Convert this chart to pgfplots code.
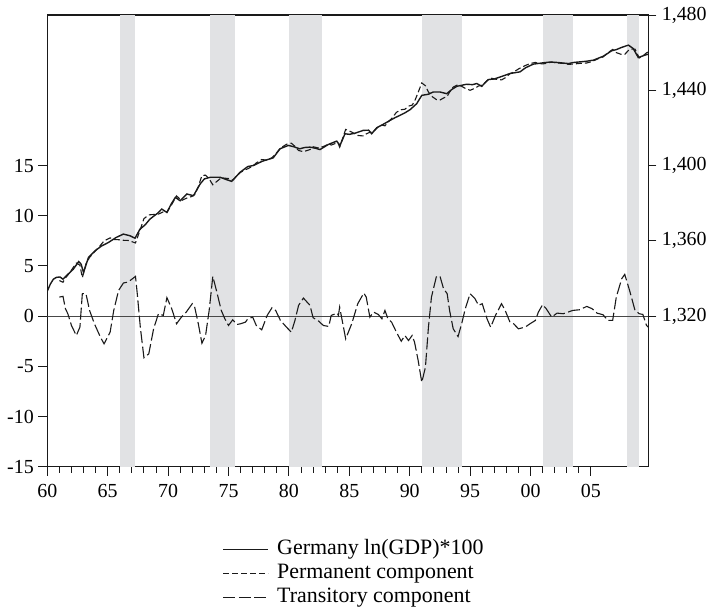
\documentclass[border=0pt]{standalone}
\usepackage{fontspec}
\setmainfont{Liberation Serif}
\usepackage{pgfplots}
\pgfplotsset{compat=1.18}
\definecolor{bandgray}{HTML}{E1E2E4}
\definecolor{ink}{HTML}{1A1A1A}

\begin{document}
\begin{tikzpicture}
\pgfplotsset{
  every axis/.append style={
    width=601bp, height=451.7bp, scale only axis,
    xmin=1960, xmax=2009.75,
    tick align=outside,
    axis line style={ink, line width=1.2bp},
    tick style={ink, line width=0.9bp},
    major tick length=8bp, minor tick length=5.5bp,
    ticklabel style={font=\fontsize{20}{24}\selectfont},
  },
}
% ---------- left axis: transitory component ----------
\begin{axis}[
  ymin=-15, ymax=30,
  xtick={1960,1965,1970,1975,1980,1985,1990,1995,2000,2005},
  xticklabels={60,65,70,75,80,85,90,95,00,05},
  minor x tick num=4,
  xtick pos=bottom,
  ytick={-15,-10,-5,0,5,10,15},
  yticklabels={-15,-10,-5,0,5,10,15},
  ytick pos=left,
  major tick length=9bp, minor tick length=6bp,
  yticklabel style={xshift=-1bp},
  xticklabel style={yshift=-5bp},
]
\addplot[draw=none, fill=bandgray] coordinates {(1966.0,-15) (1966.0,30) (1967.25,30) (1967.25,-15)};
\addplot[draw=none, fill=bandgray] coordinates {(1973.5,-15) (1973.5,30) (1975.5,30) (1975.5,-15)};
\addplot[draw=none, fill=bandgray] coordinates {(1980.0,-15) (1980.0,30) (1982.75,30) (1982.75,-15)};
\addplot[draw=none, fill=bandgray] coordinates {(1991.0,-15) (1991.0,30) (1994.3,30) (1994.3,-15)};
\addplot[draw=none, fill=bandgray] coordinates {(2001.0,-15) (2001.0,30) (2003.55,30) (2003.55,-15)};
\addplot[draw=none, fill=bandgray] coordinates {(2008.0,-15) (2008.0,30) (2009.0,30) (2009.0,-15)};
\addplot[ink!80, line width=0.9bp] coordinates {(1960,0) (2009.75,0)};
\addplot[ink, line width=1.1bp, dash pattern=on 12bp off 3.5bp] coordinates {
(1961.0,1.9) (1961.3,1.97) (1961.5,0.74) (1961.7,0.24) (1962.0,-0.93) (1962.4,-1.93)
(1962.7,-1.1) (1962.9,2.24) (1963.2,2.24) (1963.5,0.57) (1963.9,-0.76) (1964.4,-2.1)
(1964.7,-2.76) (1965.2,-1.6) (1965.5,0.57) (1965.9,2.56) (1966.3,3.3) (1966.7,3.4)
(1967.3,3.96) (1967.45,2.2) (1967.7,-1.1) (1968.0,-4.15) (1968.4,-3.76) (1968.8,-1.26)
(1969.2,0.24) (1969.6,0.07) (1969.9,1.84) (1970.3,0.74) (1970.7,-0.76) (1971.1,-0.1)
(1971.5,0.4) (1972.0,1.24) (1972.2,0.9) (1972.5,-0.76) (1972.8,-2.7) (1973.1,-1.93)
(1973.4,0.57) (1973.7,3.96) (1974.0,2.56) (1974.4,0.57) (1974.7,-0.27) (1975.0,-0.93)
(1975.35,-0.37) (1975.7,-0.83) (1976.0,-0.76) (1976.4,-0.6) (1976.6,-0.27) (1977.0,-0.1)
(1977.3,-0.93) (1977.75,-1.36) (1978.2,0.07) (1978.6,0.84) (1978.9,0.57) (1979.3,-0.43)
(1979.8,-1.1) (1980.2,-1.6) (1980.5,-0.43) (1980.8,1.07) (1981.2,1.8) (1981.75,1.07)
(1982.0,-0.16) (1982.4,-0.43) (1982.85,-0.93) (1983.3,-1.03) (1983.5,0.07) (1984.0,0.3)
(1984.1,0.07) (1984.2,0.9) (1984.7,-2.26) (1985.2,-0.76) (1985.7,1.24) (1986.2,2.3)
(1986.4,1.9) (1986.7,-0.1) (1987.0,0.4) (1987.4,0.17) (1987.7,-0.27) (1987.95,0.57)
(1988.2,-0.27) (1988.5,-0.6) (1988.9,-1.6) (1989.3,-2.5) (1989.6,-1.93) (1989.9,-2.43)
(1990.2,-1.93) (1990.4,-2.6) (1990.7,-4.42) (1991.0,-6.59) (1991.3,-5.1) (1991.55,-1.1)
(1991.8,1.9) (1992.2,3.9) (1992.5,4.0) (1992.8,2.73) (1993.1,2.24) (1993.3,0.57)
(1993.6,-1.26) (1994.0,-2.03) (1994.3,-0.76) (1994.6,0.74) (1995.0,2.24) (1995.4,1.74)
(1995.7,1.07) (1996.0,1.24) (1996.4,-0.27) (1996.7,-1.1) (1997.1,0.07) (1997.6,1.24)
(1997.9,0.57) (1998.3,-0.6) (1998.6,-0.76) (1999.0,-1.26) (1999.55,-1.1) (1999.96,-0.76)
(2000.4,-0.43) (2000.65,0.4) (2001.0,1.14) (2001.3,0.74) (2001.75,-0.1) (2002.2,0.3)
(2002.7,0.24) (2003.1,0.4) (2003.5,0.57) (2004.1,0.64) (2004.65,0.97) (2005.1,0.74)
(2005.5,0.3) (2006.0,0.14) (2006.4,-0.43) (2006.8,-0.43) (2007.1,1.9) (2007.55,3.73)
(2007.8,4.16) (2008.2,2.56) (2008.65,0.57) (2009.0,0.24) (2009.3,0.17) (2009.6,-0.93)
(2009.75,-1.1)
};
\end{axis}
% ---------- right axis: GDP and permanent component ----------
\begin{axis}[
  ymin=1240, ymax=1480,
  axis x line=none,
  axis y line*=right,
  ytick={1320,1360,1400,1440,1480},
  yticklabels={{1,320},{1,360},{1,400},{1,440},{1,480}},
  yticklabel style={xshift=2bp},
  legend style={
    at={(rel axis cs:0.292,-0.236)}, anchor=west,
    draw=none, fill=none, inner sep=0pt, outer sep=0pt,
    font=\fontsize{22}{24}\selectfont,
    row sep=2bp, column sep=7bp,
    nodes={inner sep=1bp, text height=15bp, text depth=5bp},
  },
  legend cell align=left,
  legend image code/.code={\draw[#1] (0bp,0bp) -- (45bp,0bp);},
]
\addplot[ink, line width=1.4bp] coordinates {
(1960.00,1333.3) (1960.25,1337.0) (1960.50,1339.6) (1960.75,1340.6) (1961.05,1340.8)
(1961.30,1339.6) (1961.70,1342.2) (1962.15,1344.9) (1962.60,1349.0) (1962.80,1347.6)
(1963.00,1343.1) (1963.40,1351.1) (1963.95,1354.7) (1964.50,1357.3) (1965.05,1359.1)
(1965.70,1361.8) (1966.30,1363.6) (1966.85,1362.7) (1967.26,1361.4) (1967.67,1366.2)
(1968.10,1368.5) (1968.50,1371.6) (1969.10,1374.5) (1969.47,1376.9) (1969.90,1375.1)
(1970.25,1379.5) (1970.60,1383.1) (1971.00,1381.3) (1971.55,1384.9) (1972.10,1384.0)
(1972.65,1390.2) (1973.00,1392.9) (1973.50,1393.8) (1974.30,1393.8) (1974.80,1392.6)
(1975.26,1391.6) (1975.95,1396.4) (1976.60,1399.5) (1977.05,1400.0) (1977.80,1402.3)
(1978.70,1404.1) (1979.26,1408.9) (1979.95,1410.7) (1980.40,1410.0) (1980.90,1408.9)
(1981.30,1409.6) (1981.75,1409.8) (1982.20,1409.2) (1982.57,1408.5) (1983.26,1411.2)
(1983.96,1413.0) (1984.23,1410.7) (1984.64,1416.9) (1985.00,1416.6) (1985.47,1417.2)
(1986.16,1418.7) (1986.60,1418.8) (1986.85,1416.9) (1987.27,1420.1) (1987.80,1421.9)
(1988.37,1424.0) (1988.80,1425.5) (1989.20,1426.7) (1989.60,1428.0) (1990.03,1429.7)
(1990.58,1432.9) (1991.00,1437.3) (1991.54,1437.9) (1991.95,1439.1) (1992.50,1439.1)
(1993.06,1438.2) (1993.50,1440.5) (1993.90,1442.1) (1994.70,1443.2) (1995.20,1443.0)
(1995.55,1443.6) (1995.96,1442.1) (1996.50,1445.7) (1997.00,1446.0) (1997.50,1447.1)
(1998.30,1448.9) (1999.13,1449.8) (1999.60,1452.0) (2000.23,1453.9) (2001.06,1454.6)
(2001.60,1455.0) (2002.17,1454.8) (2003.13,1454.2) (2003.60,1454.8) (2004.10,1455.1)
(2004.60,1455.4) (2005.20,1456.0) (2006.03,1458.1) (2006.72,1461.0) (2007.10,1461.6)
(2007.55,1462.8) (2008.10,1464.0) (2008.50,1462.2) (2008.92,1457.4) (2009.48,1458.7)
(2009.75,1459.2)
};
\addlegendentry{Germany ln(GDP)*100}
\addplot[ink, line width=1.1bp, dash pattern=on 6bp off 3bp] coordinates {
(1961.0,1338.9) (1961.3,1338.0) (1961.5,1340.3) (1961.7,1341.8) (1962.0,1344.5) (1962.4,1348.2)
(1962.7,1347.1) (1962.9,1340.4) (1963.2,1347.8) (1963.5,1351.2) (1963.9,1354.1) (1964.4,1357.6)
(1964.7,1360.0) (1965.2,1361.6) (1965.5,1360.7) (1965.9,1360.6) (1966.3,1360.3) (1966.7,1360.2)
(1967.3,1358.9) (1967.45,1361.6) (1967.7,1366.1) (1968.0,1371.8) (1968.4,1373.8) (1968.8,1374.0)
(1969.2,1374.2) (1969.6,1375.4) (1969.9,1375.1) (1970.3,1379.3) (1970.7,1383.9) (1971.1,1381.4)
(1971.5,1382.6) (1972.0,1383.7) (1972.2,1384.6) (1972.5,1388.8) (1972.8,1394.7) (1973.1,1394.9)
(1973.4,1392.9) (1973.7,1389.8) (1974.0,1391.4) (1974.4,1393.5) (1974.7,1393.3) (1975.0,1393.1)
(1975.35,1392.2) (1975.7,1394.6) (1976.0,1396.4) (1976.4,1397.8) (1976.6,1398.3) (1977.0,1399.7)
(1977.3,1401.4) (1977.75,1403.2) (1978.2,1402.9) (1978.6,1404.2) (1978.9,1406.1) (1979.3,1409.3)
(1979.8,1411.3) (1980.2,1411.9) (1980.5,1410.2) (1980.8,1408.0) (1981.2,1407.4) (1981.75,1408.5)
(1982.0,1410.0) (1982.4,1409.4) (1982.85,1410.1) (1983.3,1411.5) (1983.5,1410.9) (1984.0,1412.1)
(1984.1,1411.4) (1984.2,1409.8) (1984.7,1419.2) (1985.2,1417.8) (1985.7,1416.0) (1986.2,1415.7)
(1986.4,1416.8) (1986.7,1417.7) (1987.0,1418.1) (1987.4,1420.6) (1987.7,1421.5) (1987.95,1421.1)
(1988.2,1423.1) (1988.5,1424.9) (1988.9,1428.3) (1989.3,1429.7) (1989.6,1429.9) (1989.9,1431.6)
(1990.2,1432.1) (1990.4,1434.1) (1990.7,1438.9) (1991.0,1443.9) (1991.3,1442.4) (1991.55,1439.1)
(1991.8,1436.9) (1992.2,1435.1) (1992.5,1434.8) (1992.8,1435.9) (1993.1,1436.8) (1993.3,1439.0)
(1993.6,1441.7) (1994.0,1443.0) (1994.3,1442.1) (1994.6,1441.0) (1995.0,1440.0) (1995.4,1441.1)
(1995.7,1442.3) (1996.0,1442.7) (1996.4,1445.1) (1996.7,1446.5) (1997.1,1445.9) (1997.6,1445.5)
(1997.9,1446.6) (1998.3,1448.8) (1998.6,1449.7) (1999.0,1451.3) (1999.55,1453.1) (1999.96,1454.2)
(2000.4,1454.8) (2000.65,1454.3) (2001.0,1454.0) (2001.3,1454.3) (2001.75,1455.0) (2002.2,1454.5)
(2002.7,1454.3) (2003.1,1453.8) (2003.5,1453.9) (2004.1,1454.3) (2004.65,1454.5) (2005.1,1455.3)
(2005.5,1456.5) (2006.0,1457.7) (2006.4,1459.9) (2006.8,1461.7) (2007.1,1460.0) (2007.55,1459.0)
(2007.8,1459.1) (2008.2,1461.8) (2008.65,1461.9) (2009.0,1457.2) (2009.3,1458.2) (2009.6,1459.9)
(2009.75,1460.3)
};
\addlegendentry{Permanent component}
\addlegendimage{ink, line width=1.1bp, dash pattern=on 12bp off 3.5bp}
\addlegendentry{Transitory component}
\end{axis}
\path[use as bounding box] (-47.3bp,-145.3bp) rectangle (668.7bp,466.7bp);
\end{tikzpicture}
\end{document}
